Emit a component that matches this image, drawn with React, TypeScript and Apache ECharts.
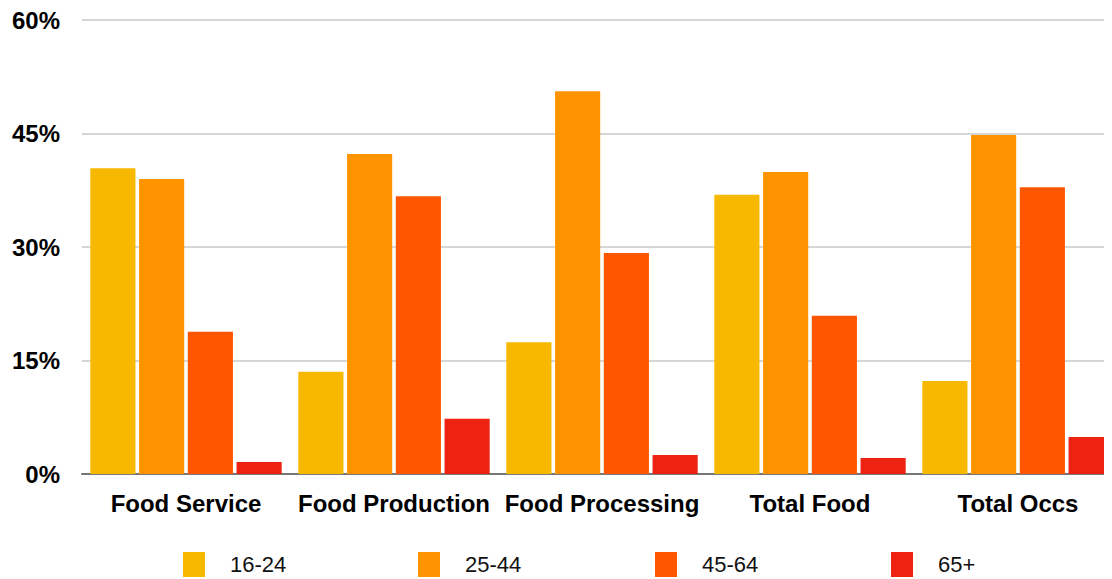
import React, { useEffect, useRef } from "react";
import * as echarts from "echarts";

const categories = ["Food Service", "Food Production", "Food Processing", "Total Food", "Total Occs"];
const ageGroups = ["16-24", "25-44", "45-64", "65+"];
const age16to24 = [40.4, 13.5, 17.4, 36.9, 12.3];
const age25to44 = [39.0, 42.3, 50.6, 39.9, 44.8];
const age45to64 = [18.8, 36.7, 29.2, 20.9, 37.9];
const age65plus = [1.6, 7.3, 2.5, 2.1, 4.9];
const colors = ["#F6B900", "#FF9400", "#FF5600", "#EE2211"];

const FONT = "Liberation Sans, Arial, Helvetica, sans-serif";
const legendLefts = [183, 418, 655, 891];

export default function App() {
  const ref = useRef<HTMLDivElement>(null);
  useEffect(() => {
    if (!ref.current) return;
    const chart = echarts.init(ref.current, undefined, { renderer: "svg" });
    const values = [age16to24, age25to44, age45to64, age65plus];
    chart.setOption({
      animation: false,
      backgroundColor: "#ffffff",
      grid: { left: 82, right: 10, top: 20, bottom: 105 },
      // one legend per age group so each sits at its own fixed slot
      legend: ageGroups.map((name, i) => ({
        left: legendLefts[i],
        top: 552,
        padding: 0,
        itemWidth: 22,
        itemHeight: 25,
        icon: "rect",
        data: [name],
        selectedMode: false,
        textStyle: {
          fontFamily: FONT,
          fontSize: 22,
          color: "#111",
          padding: [0, 0, 0, 20],
        },
      })),
      xAxis: {
        type: "category",
        data: categories,
        axisLine: { lineStyle: { color: "#777", width: 2 } },
        axisTick: { show: false },
        axisLabel: {
          margin: 17,
          fontFamily: FONT,
          fontSize: 24,
          fontWeight: "bold",
          color: "#000",
          interval: 0,
        },
      },
      yAxis: {
        type: "value",
        min: 0,
        max: 60,
        interval: 15,
        axisLine: { show: false },
        axisTick: { show: false },
        splitLine: { lineStyle: { color: "#d6d6d6", width: 2 } },
        axisLabel: {
          margin: 22,
          formatter: "{value}%",
          fontFamily: FONT,
          fontSize: 24,
          fontWeight: "bold",
          color: "#000",
        },
      },
      series: ageGroups.map((name, i) => ({
        name,
        type: "bar",
        data: values[i],
        itemStyle: { color: colors[i] },
        barGap: "8%",
        barCategoryGap: "8%",
      })),
    });
    return () => chart.dispose();
  }, []);
  // the plot runs a little past the right edge, so the chart is wider than its frame
  return (
    <div style={{ width: 1112, height: 579, overflow: "hidden", marginTop: -8, marginLeft: -8 }}>
      <div ref={ref} style={{ width: 1132, height: 579 }} />
    </div>
  );
}
